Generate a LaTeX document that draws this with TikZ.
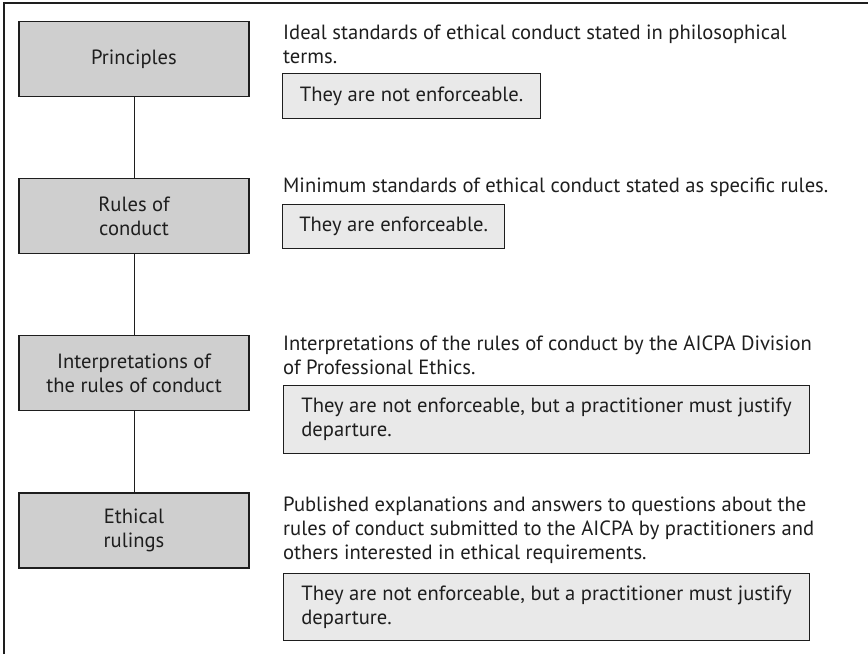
\documentclass[tikz,border=0pt]{standalone}
\usepackage{fontspec}
\setmainfont{PT Sans}
\usetikzlibrary{positioning}

\definecolor{levelgray}{RGB}{207,207,207}
\definecolor{notegray}{RGB}{233,233,233}
\definecolor{inkgray}{RGB}{30,30,30}

\tikzset{
    level/.style={draw=inkgray,line width=1.2pt,fill=levelgray,minimum width=230pt,minimum height=75pt,align=center,font=\fontsize{20.6}{24}\selectfont},
    desc/.style={anchor=base west,inner sep=0pt,align=left,font=\fontsize{20.6}{24}\selectfont},
    note/.style={draw=inkgray,line width=1.2pt,fill=notegray,anchor=north west,align=left,font=\fontsize{20.6}{24}\selectfont}
}

\begin{document}
\begin{tikzpicture}[x=1pt,y=-1pt,color=inkgray]
    \useasboundingbox (0,0) rectangle (868,654);
    % frame
    \draw[line width=1.6pt] (4,654) -- (4,3) -- (868,3);

    % the four levels
    \node[level] (principles) at (134,59) {Principles};
    \node[level] (rules) at (134,216) {Rules of\\conduct};
    \node[level] (interp) at (134,373) {Interpretations of\\the rules of conduct};
    \node[level] (rulings) at (134,530.5) {Ethical\\rulings};
    \draw[line width=1pt] (principles) -- (rules);
    \draw[line width=1pt] (rules) -- (interp);
    \draw[line width=1pt] (interp) -- (rulings);

    % what each level means (base = last line)
    \node[desc] (principlesdesc) at (283,63) {Ideal standards of ethical conduct stated in philosophical\\terms.};
    \node[note,minimum width=258pt,minimum height=45pt] (principlesnote) at (282,73) {They are not enforceable.};

    \node[desc] (rulesdesc) at (283,192) {Minimum standards of ethical conduct stated as specific rules.};
    \node[note,minimum width=222pt,minimum height=44pt] (rulesnote) at (282,204) {They are enforceable.};

    \node[desc] (interpdesc) at (283,374) {Interpretations of the rules of conduct by the AICPA Division\\of Professional Ethics.};
    \node[note,minimum width=526pt,minimum height=68pt] (interpnote) at (283,385) {They are not enforceable, but a practitioner must justify\\departure.};

    \node[desc] (rulingsdesc) at (283,559) {Published explanations and answers to questions about the\\rules of conduct submitted to the AICPA by practitioners and\\others interested in ethical requirements.};
    \node[note,minimum width=526pt,minimum height=67pt] (rulingsnote) at (283,573) {They are not enforceable, but a practitioner must justify\\departure.};
\end{tikzpicture}
\end{document}
